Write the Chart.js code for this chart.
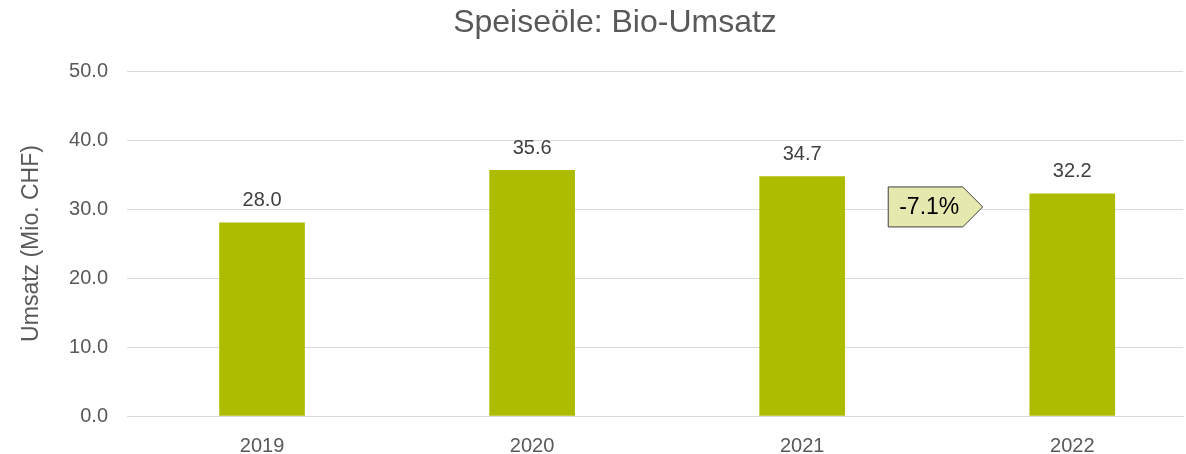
<!DOCTYPE html>
<html>
<head>
<meta charset="utf-8">
<script src="https://cdn.jsdelivr.net/npm/chart.js@4/dist/chart.umd.min.js"></script>
<style>
  html, body { margin: 0; padding: 0; background: #fff; }
  #wrap { width: 1186px; height: 454px; position: relative; }
</style>
</head>
<body>
<div id="wrap"><canvas id="barChart"></canvas></div>
<script>
// data
let years = [2019, 2020, 2021, 2022];
let yearLabels = ['2019', '2020', '2021', '2022'];
let umsatz = [28.0, 35.6, 34.7, 32.2];
let yTicks = [0, 10, 20, 30, 40, 50];
let changeLabel = '-7.1%';
let chartTitle = 'Speiseöle: Bio-Umsatz';

const barColor = '#ADBC00';
const textGrey = '#595959';
const fontName = "'Liberation Sans', Arial, sans-serif";

// title, a bit right of the canvas centre like in the original
const titlePlugin = {
    id: 'titlePlugin',
    afterDraw(chart) {
        const ctx = chart.ctx;
        ctx.save();
        ctx.font = '32px ' + fontName;
        ctx.fillStyle = textGrey;
        ctx.textAlign = 'center';
        ctx.textBaseline = 'middle';
        ctx.fillText(chartTitle, chart.width / 2 + 22, 23);
        ctx.restore();
    }
};

// value labels above bars
const valueLabels = {
    id: 'valueLabels',
    afterDatasetsDraw(chart) {
        const ctx = chart.ctx;
        const meta = chart.getDatasetMeta(0);
        ctx.save();
        ctx.font = '20px ' + fontName;
        ctx.fillStyle = '#404040';
        ctx.textAlign = 'center';
        ctx.textBaseline = 'middle';
        meta.data.forEach(function (bar, i) {
            ctx.fillText(umsatz[i].toFixed(1), bar.x, bar.y - 22);
        });
        ctx.restore();
    }
};

// arrow box with change between last two years
const changeBox = {
    id: 'changeBox',
    afterDatasetsDraw(chart) {
        const ctx = chart.ctx;
        const xs = chart.scales.x;
        const ys = chart.scales.y;
        const cx = (xs.getPixelForValue(years[2]) + xs.getPixelForValue(years[3])) / 2 - 2;
        const cy = ys.getPixelForValue(30.3);
        const w = 95, h = 41, tip = 20;
        const l = cx - w / 2, r = cx + w / 2, t = cy - h / 2, b = cy + h / 2;
        ctx.save();
        ctx.beginPath();
        ctx.moveTo(l + 0.5, t + 0.5);
        ctx.lineTo(r - tip, t + 0.5);
        ctx.lineTo(r, cy);
        ctx.lineTo(r - tip, b - 0.5);
        ctx.lineTo(l + 0.5, b - 0.5);
        ctx.closePath();
        ctx.fillStyle = '#E5E8AF';
        ctx.fill();
        ctx.lineWidth = 1;
        ctx.strokeStyle = '#404040';
        ctx.stroke();
        ctx.font = '23px ' + fontName;
        ctx.fillStyle = '#000';
        ctx.textAlign = 'center';
        ctx.textBaseline = 'middle';
        ctx.fillText(changeLabel, l + (w - tip) / 2 + 4, cy + 1);
        ctx.restore();
    }
};

const ctx = document.getElementById('barChart').getContext('2d');
new Chart(ctx, {
    type: 'bar',
    data: {
        datasets: [{
            data: years.map((yr, i) => ({ x: yr, y: umsatz[i] })),
            backgroundColor: barColor,
            barThickness: 85
        }]
    },
    options: {
        responsive: true,
        maintainAspectRatio: false,
        animation: false,
        layout: { padding: { left: 18, right: 3, top: 71, bottom: 0 } },
        plugins: {
            legend: { display: false },
            tooltip: { enabled: false },
            title: { display: false }
        },
        scales: {
            x: {
                type: 'linear',
                offset: false,
                min: 2018.5,
                max: 2022.41,
                afterBuildTicks: function (scale) {
                    scale.ticks = years.map(v => ({ value: v }));
                },
                afterFit: function (scale) { scale.height = 38; },
                grid: { display: false, offset: false },
                border: { display: true, color: '#D9D9D9', width: 1 },
                ticks: {
                    color: textGrey,
                    padding: 10,
                    font: { family: fontName, size: 20 },
                    callback: function (v) {
                        const i = years.indexOf(v);
                        return i >= 0 ? yearLabels[i] : '';
                    }
                }
            },
            y: {
                min: 0,
                max: 50,
                afterBuildTicks: function (scale) {
                    scale.ticks = yTicks.map(v => ({ value: v }));
                },
                afterFit: function (scale) { scale.width = 109; },
                grid: { color: '#D9D9D9', tickLength: 0 },
                border: { display: false },
                ticks: {
                    color: textGrey,
                    padding: 19,
                    font: { family: fontName, size: 20 },
                    callback: v => v.toFixed(1)
                },
                title: {
                    display: true,
                    text: 'Umsatz (Mio. CHF)',
                    color: textGrey,
                    font: { family: fontName, size: 23 },
                    padding: { top: 0, bottom: 0 }
                }
            }
        }
    },
    plugins: [valueLabels, changeBox, titlePlugin]
});
</script>
</body>
</html>
